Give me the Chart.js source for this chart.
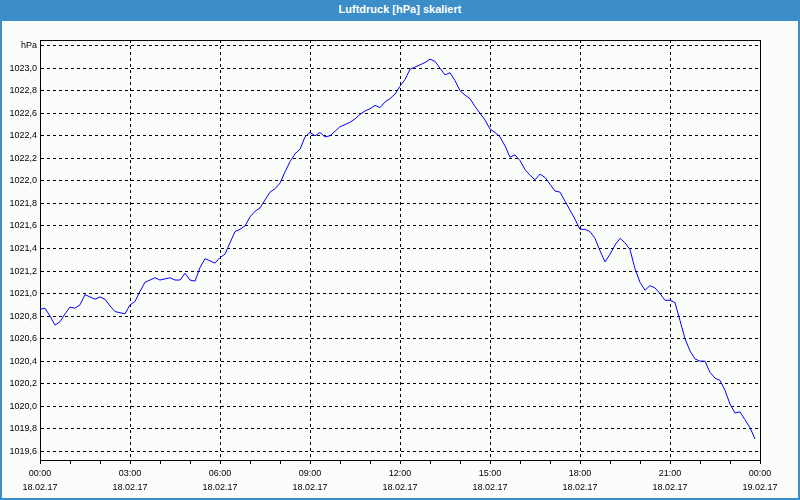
<!DOCTYPE html>
<html lang="de">
<head>
  <meta charset="UTF-8">
  <title>Luftdruck [hPa] skaliert</title>
  <script src="https://cdn.jsdelivr.net/npm/chart.js"></script>
  <style>
    body {
      margin: 0;
      background: #fbfdfb;
    }

    .frame {
      position: absolute;
      left: 0;
      top: 0;
      width: 800px;
      height: 500px;
      box-sizing: border-box;
      border: 2px solid #3b8ec8;
      border-top: none;
      background: #fbfdfb;
    }

    .title-bar {
      height: 21px;
      margin: 0 -2px;
      background: #3b8ec8;
      color: #ffffff;
      font: bold 11px 'Liberation Sans', Arial, sans-serif;
      line-height: 19px;
      text-align: center;
    }

    canvas {
      position: absolute;
      left: 0;
      top: 0;
    }
  </style>
</head>
<body>

  <div class="frame">
    <div class="title-bar">Luftdruck [hPa] skaliert</div>
  </div>
  <canvas id="pressureChart" width="800" height="500"></canvas>

  <script>
    // Messzeitpunkte (18.02.17, alle 10 Minuten)
    const times = [
      '00:00', '00:10', '00:20', '00:30', '00:40', '00:50',
      '01:00', '01:10', '01:20', '01:30', '01:40', '01:50',
      '02:00', '02:10', '02:20', '02:30', '02:40', '02:50',
      '03:00', '03:10', '03:20', '03:30', '03:40', '03:50',
      '04:00', '04:10', '04:20', '04:30', '04:40', '04:50',
      '05:00', '05:10', '05:20', '05:30', '05:40', '05:50',
      '06:00', '06:10', '06:20', '06:30', '06:40', '06:50',
      '07:00', '07:10', '07:20', '07:30', '07:40', '07:50',
      '08:00', '08:10', '08:20', '08:30', '08:40', '08:50',
      '09:00', '09:10', '09:20', '09:30', '09:40', '09:50',
      '10:00', '10:10', '10:20', '10:30', '10:40', '10:50',
      '11:00', '11:10', '11:20', '11:30', '11:40', '11:50',
      '12:00', '12:10', '12:20', '12:30', '12:40', '12:50',
      '13:00', '13:10', '13:20', '13:30', '13:40', '13:50',
      '14:00', '14:10', '14:20', '14:30', '14:40', '14:50',
      '15:00', '15:10', '15:20', '15:30', '15:40', '15:50',
      '16:00', '16:10', '16:20', '16:30', '16:40', '16:50',
      '17:00', '17:10', '17:20', '17:30', '17:40', '17:50',
      '18:00', '18:10', '18:20', '18:30', '18:40', '18:50',
      '19:00', '19:10', '19:20', '19:30', '19:40', '19:50',
      '20:00', '20:10', '20:20', '20:30', '20:40', '20:50',
      '21:00', '21:10', '21:20', '21:30', '21:40', '21:50',
      '22:00', '22:10', '22:20', '22:30', '22:40', '22:50',
      '23:00', '23:10', '23:20', '23:30', '23:40', '23:50'
    ];

    // Luftdruck in hPa
    const pressure = [
      1020.86, 1020.87, 1020.80, 1020.72, 1020.75, 1020.82,
      1020.88, 1020.87, 1020.90, 1020.99, 1020.97, 1020.95,
      1020.97, 1020.95, 1020.89, 1020.84, 1020.83, 1020.82,
      1020.90, 1020.93, 1021.02, 1021.10, 1021.12, 1021.14,
      1021.12, 1021.13, 1021.14, 1021.12, 1021.12, 1021.18,
      1021.12, 1021.11, 1021.23, 1021.31, 1021.29, 1021.27,
      1021.32, 1021.35, 1021.45, 1021.55, 1021.57, 1021.60,
      1021.68, 1021.73, 1021.76, 1021.83, 1021.90, 1021.93,
      1021.98, 1022.08, 1022.17, 1022.24, 1022.28, 1022.39,
      1022.43, 1022.40, 1022.43, 1022.39, 1022.40, 1022.44,
      1022.48, 1022.50, 1022.52, 1022.55, 1022.59, 1022.62,
      1022.64, 1022.67, 1022.65, 1022.70, 1022.73, 1022.77,
      1022.84, 1022.90, 1022.99, 1023.01, 1023.03, 1023.05,
      1023.08, 1023.06, 1023.00, 1022.94, 1022.96, 1022.89,
      1022.80, 1022.76, 1022.73, 1022.66, 1022.60, 1022.54,
      1022.46, 1022.43, 1022.39, 1022.31, 1022.21, 1022.23,
      1022.18, 1022.10, 1022.05, 1022.01, 1022.06, 1022.03,
      1021.97, 1021.91, 1021.90, 1021.82, 1021.74, 1021.66,
      1021.57, 1021.57, 1021.55, 1021.49, 1021.38, 1021.28,
      1021.35, 1021.43, 1021.49, 1021.45, 1021.39, 1021.22,
      1021.10, 1021.03, 1021.07, 1021.05, 1021.00, 1020.94,
      1020.94, 1020.92, 1020.76, 1020.60, 1020.49, 1020.42,
      1020.40, 1020.40, 1020.30, 1020.25, 1020.23, 1020.14,
      1020.02, 1019.94, 1019.95, 1019.88, 1019.81, 1019.71
    ];

    // Achsenbeschriftungen
    const yTicks = [
      1019.6, 1019.8, 1020.0, 1020.2, 1020.4, 1020.6, 1020.8, 1021.0, 1021.2,
      1021.4, 1021.6, 1021.8, 1022.0, 1022.2, 1022.4, 1022.6, 1022.8, 1023.0, 1023.2
    ];
    const yUnitTick = 1023.2;
    const yUnit = 'hPa';
    const xTickHours = [0, 3, 6, 9, 12, 15, 18, 21, 24];
    const xTickTimes = ['00:00', '03:00', '06:00', '09:00', '12:00', '15:00', '18:00', '21:00', '00:00'];
    const xTickDates = ['18.02.17', '18.02.17', '18.02.17', '18.02.17', '18.02.17', '18.02.17', '18.02.17', '18.02.17', '19.02.17'];

    function toHours(t) {
      const parts = t.split(':');
      return Number(parts[0]) + Number(parts[1]) / 60;
    }

    const points = times.map((t, i) => ({ x: toHours(t), y: pressure[i] }));

    const font = { family: "'Liberation Sans', Arial, sans-serif", size: 9 };

    // Rahmen oben und rechts
    const framePlugin = {
      id: 'frame',
      afterDraw(chart) {
        const a = chart.chartArea;
        const ctx = chart.ctx;
        ctx.save();
        ctx.strokeStyle = '#000000';
        ctx.lineWidth = 1;
        ctx.beginPath();
        ctx.moveTo(Math.round(a.left) + 0.5, Math.round(a.top) + 0.5);
        ctx.lineTo(Math.round(a.right) + 0.5, Math.round(a.top) + 0.5);
        ctx.lineTo(Math.round(a.right) + 0.5, Math.round(a.bottom) + 0.5);
        ctx.stroke();
        ctx.restore();
      }
    };

    new Chart(document.getElementById('pressureChart'), {
      type: 'line',
      data: {
        datasets: [{
          data: points,
          borderColor: '#0000ff',
          borderWidth: 1,
          pointRadius: 0,
          tension: 0,
          fill: false
        }]
      },
      options: {
        responsive: false,
        animation: false,
        layout: { padding: { top: 40, right: 40, bottom: 0, left: 0 } },
        plugins: {
          legend: { display: false },
          tooltip: { enabled: false }
        },
        scales: {
          x: {
            type: 'linear',
            min: 0,
            max: 24,
            afterFit(scale) { scale.height = 40; },
            ticks: {
              stepSize: 1,
              autoSkip: false,
              maxRotation: 0,
              padding: 3,
              color: '#000000',
              font: Object.assign({ lineHeight: '14px' }, font),
              callback(value) {
                const i = xTickHours.indexOf(value);
                return i < 0 ? '' : [xTickTimes[i], xTickDates[i]];
              }
            },
            grid: {
              color: ctx => (ctx.tick && xTickHours.includes(ctx.tick.value)) ? '#000000' : 'rgba(0,0,0,0)',
              tickColor: '#000000',
              tickLength: 4,
              lineWidth: 1
            },
            border: { display: true, color: '#000000', width: 1, dash: [3, 3] }
          },
          y: {
            min: 1019.523,
            max: 1023.25,
            afterFit(scale) { scale.width = 40; },
            afterBuildTicks(scale) {
              scale.ticks = yTicks.map(v => ({ value: v }));
            },
            ticks: {
              padding: 3,
              color: '#000000',
              font: font,
              callback(value) {
                if (Math.abs(value - yUnitTick) < 1e-6) return yUnit;
                return value.toFixed(1).replace('.', ',');
              }
            },
            grid: {
              color: '#000000',
              drawTicks: false,
              lineWidth: 1
            },
            border: { display: true, color: '#000000', width: 1, dash: [3, 3] }
          }
        }
      },
      plugins: [framePlugin]
    });
  </script>

</body>
</html>
